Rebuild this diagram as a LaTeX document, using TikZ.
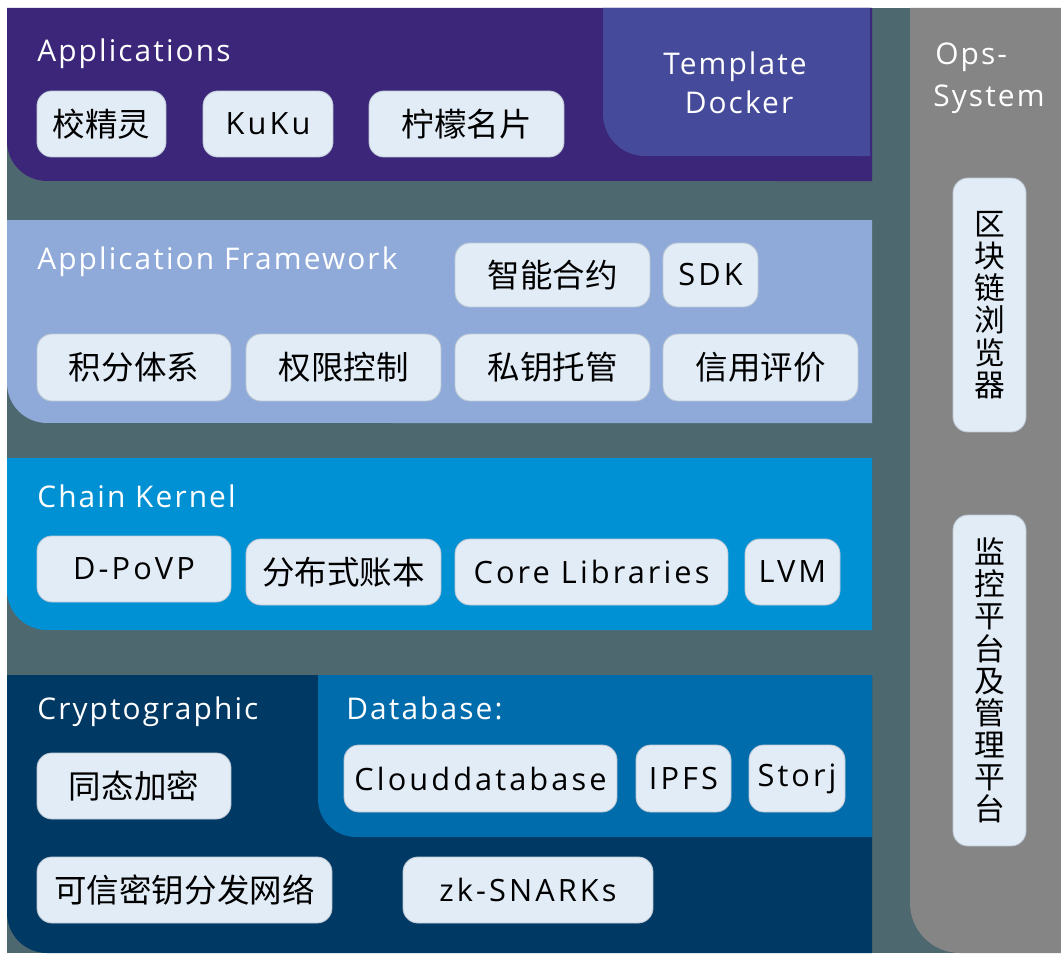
\documentclass[tikz,border=0pt]{standalone}
\usepackage{fontspec}
\setmainfont{Open Sans}[LetterSpace=7]
\newfontfamily\boxfont{Open Sans}[LetterSpace=10]
\newfontfamily\cjk{Noto Sans CJK SC}

\definecolor{slate}{RGB}{78,104,112}
\definecolor{opsgray}{RGB}{133,133,133}
\definecolor{appsviolet}{RGB}{59,38,121}
\definecolor{dockerblue}{RGB}{69,74,154}
\definecolor{framelight}{RGB}{143,170,217}
\definecolor{kernelblue}{RGB}{0,145,212}
\definecolor{cryptonavy}{RGB}{0,57,100}
\definecolor{dbblue}{RGB}{0,108,172}
\definecolor{boxfill}{RGB}{225,236,246}
\definecolor{boxline}{RGB}{190,200,212}

\begin{document}
\begin{tikzpicture}[
    x=0.02cm, y=-0.02cm,
    title/.style={anchor=base west, inner sep=0pt, text=white, font=\fontsize{17}{20}\selectfont},
    item/.style={rectangle, rounded corners=0.3cm, fill=boxfill, draw=boxline, line width=0.5pt, minimum height=1.32cm, inner sep=0pt, font=\boxfont\fontsize{17.5}{20}\selectfont},
    cjkitem/.style={item, font=\cjk\fontsize{18.5}{20}\selectfont},
    vitem/.style={item, minimum width=1.46cm, align=center, font=\cjk\fontsize{17.5}{18.3}\selectfont}
]
\useasboundingbox (0,0) rectangle (1061,953);
\fill[white] (0,0) rectangle (1061,953);
\fill[slate] (7,8) rectangle (1061,953);

% ==================== Ops-System ====================
\fill[opsgray] (910,8) -- (910,903) arc[start angle=180, end angle=270, radius=1cm] -- (1061,953) -- (1061,8) -- cycle;
\node[title] (opsA) at (935,65) {Ops-};
\node[title] (opsB) at (933,107) {System};
\node[vitem, minimum height=5.08cm] (explorer) at (989.5,305) {区\\块\\链\\浏\\览\\器};
\node[vitem, minimum height=6.62cm] (monitor) at (989.5,680.5) {监\\控\\平\\台\\及\\管\\理\\平\\台};

% ==================== Applications ====================
\fill[appsviolet] (872,8) -- (7,8) -- (7,141) arc[start angle=180, end angle=270, radius=0.8cm] -- (872,181) -- cycle;
\fill[dockerblue] (870,8) -- (603,8) -- (603,114) arc[start angle=180, end angle=270, radius=0.84cm] -- (870,156) -- cycle;
\node[title] (appsT) at (37,62) {Applications};
\node[title, anchor=base] (tmpl) at (735,74) {Template};
\node[title, anchor=base] (dock) at (739,113) {Docker};
\node[cjkitem, minimum width=2.58cm] (jjl) at (101.5,124) {校精灵};
\node[item, minimum width=2.6cm] (kuku) at (268,124) {KuKu};
\node[cjkitem, minimum width=3.9cm] (nmmp) at (466.5,124) {柠檬名片};

% ==================== Application Framework ====================
\fill[framelight] (872,220) -- (7,220) -- (7,383) arc[start angle=180, end angle=270, radius=0.8cm] -- (872,423) -- cycle;
\node[title] (frameT) at (37,269) {Application Framework};
\node[cjkitem, minimum width=3.9cm, minimum height=1.28cm] (contract) at (552.5,275) {智能合约};
\node[item, minimum width=1.9cm, minimum height=1.28cm] (sdk) at (710.5,275) {SDK};
\node[cjkitem, minimum width=3.88cm, minimum height=1.34cm] (points) at (134,367.5) {积分体系};
\node[cjkitem, minimum width=3.9cm, minimum height=1.34cm] (perm) at (343.5,367.5) {权限控制};
\node[cjkitem, minimum width=3.9cm, minimum height=1.34cm] (custody) at (552.5,367.5) {私钥托管};
\node[cjkitem, minimum width=3.9cm, minimum height=1.34cm] (credit) at (760.5,367.5) {信用评价};

% ==================== Chain Kernel ====================
\fill[kernelblue] (872,458) -- (7,458) -- (7,590) arc[start angle=180, end angle=270, radius=0.8cm] -- (872,630) -- cycle;
\node[title] (kernelT) at (37,507) {Chain Kernel};
\node[item, minimum width=3.88cm] (povp) at (134,569) {D-PoVP};
\node[cjkitem, minimum width=3.9cm] (ledger) at (343.5,572) {分布式账本};
\node[item, minimum width=5.46cm] (corelib) at (591.5,572) {Core Libraries};
\node[item, minimum width=1.9cm] (lvm) at (792.5,572) {LVM};

% ==================== Cryptographic / Database ====================
\fill[cryptonavy] (872,675) -- (7,675) -- (7,913) arc[start angle=180, end angle=270, radius=0.8cm] -- (872,953) -- cycle;
\fill[dbblue] (872,675) -- (318,675) -- (318,799) arc[start angle=180, end angle=270, radius=0.76cm] -- (872,837) -- cycle;
\node[title] (cryptoT) at (37,719) {Cryptographic};
\node[title] (dbT) at (346,719) {Database:};
\node[item, minimum width=5.46cm, minimum height=1.34cm] (cloud) at (480.5,778.5) {Clouddatabase};
\node[item, minimum width=1.9cm, minimum height=1.34cm] (ipfs) at (683.5,778.5) {IPFS};
\node[item, minimum width=1.92cm, minimum height=1.34cm] (storj) at (797,778.5) {Storj};
\node[cjkitem, minimum width=3.88cm] (homo) at (134,786) {同态加密};
\node[cjkitem, minimum width=5.9cm] (keynet) at (184.5,890) {可信密钥分发网络};
\node[item, minimum width=5cm] (zk) at (528,890) {zk-SNARKs};

\end{tikzpicture}
\end{document}
